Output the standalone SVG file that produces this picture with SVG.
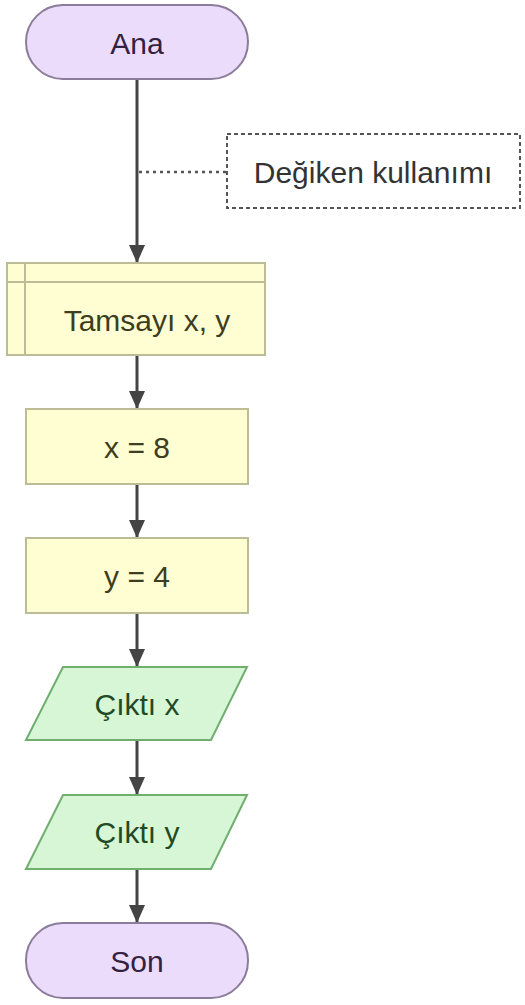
<svg xmlns="http://www.w3.org/2000/svg" width="525" height="1005" viewBox="0 0 525 1005">
<defs>
<marker id="arr" markerWidth="18" markerHeight="18" viewBox="0 0 18 18" refX="18" refY="9" orient="auto" markerUnits="userSpaceOnUse">
<path d="M0,1 L18,9 L0,17 Z" fill="#444"/>
</marker>
<style>
text{font-family:"Liberation Sans",Arial,sans-serif;font-size:30px;text-anchor:middle;dominant-baseline:central}
.term{fill:#ecdcfb;stroke:#8c7c9c;stroke-width:2}
.term-t{fill:#33223f}
.proc{fill:#fefed2;stroke:#bcbc96;stroke-width:2}
.proc-t{fill:#3d3d22}
.io{fill:#d6f6d6;stroke:#6fae6f;stroke-width:2}
.io-t{fill:#1f4a23}
.conn{stroke:#444;stroke-width:3;fill:none}
</style>
</defs>
<g id="connectors">
<line class="conn" x1="137" y1="80" x2="137" y2="263" marker-end="url(#arr)"/>
<line class="conn" x1="137" y1="356" x2="137" y2="409" marker-end="url(#arr)"/>
<line class="conn" x1="137" y1="485" x2="137" y2="538" marker-end="url(#arr)"/>
<line class="conn" x1="137" y1="614" x2="137" y2="667" marker-end="url(#arr)"/>
<line class="conn" x1="137" y1="740" x2="137" y2="795" marker-end="url(#arr)"/>
<line class="conn" x1="137" y1="869" x2="137" y2="923" marker-end="url(#arr)"/>
<line x1="139" y1="172" x2="227" y2="172" stroke="#555" stroke-width="2.5" stroke-dasharray="3,4"/>
</g>
<g id="ana">
<rect class="term" x="26" y="5" width="222" height="74" rx="37"/>
<text class="term-t" x="137" y="43">Ana</text>
</g>
<g id="comment">
<rect x="227" y="134" width="293" height="74" fill="#fff" stroke="#555" stroke-width="2" stroke-dasharray="4,3"/>
<text x="373" y="172" fill="#333">Değiken kullanımı</text>
</g>
<g id="tamsayi">
<rect class="proc" x="7" y="263" width="258" height="92"/>
<line x1="7" y1="282" x2="265" y2="282" stroke="#bcbc96" stroke-width="2"/>
<line x1="25" y1="263" x2="25" y2="355" stroke="#bcbc96" stroke-width="2"/>
<text class="proc-t" x="147" y="320">Tamsayı x, y</text>
</g>
<g id="x8">
<rect class="proc" x="26" y="409" width="222" height="75"/>
<text class="proc-t" x="137" y="447">x = 8</text>
</g>
<g id="y4">
<rect class="proc" x="26" y="538" width="222" height="75"/>
<text class="proc-t" x="137" y="576">y = 4</text>
</g>
<g id="ciktix">
<polygon class="io" points="63,667 247,667 211,740 26,740"/>
<text class="io-t" x="137" y="704">Çıktı x</text>
</g>
<g id="ciktiy">
<polygon class="io" points="63,795 247,795 211,869 26,869"/>
<text class="io-t" x="137" y="832">Çıktı y</text>
</g>
<g id="son">
<rect class="term" x="26" y="923" width="222" height="75" rx="37"/>
<text class="term-t" x="137" y="961">Son</text>
</g>
</svg>
